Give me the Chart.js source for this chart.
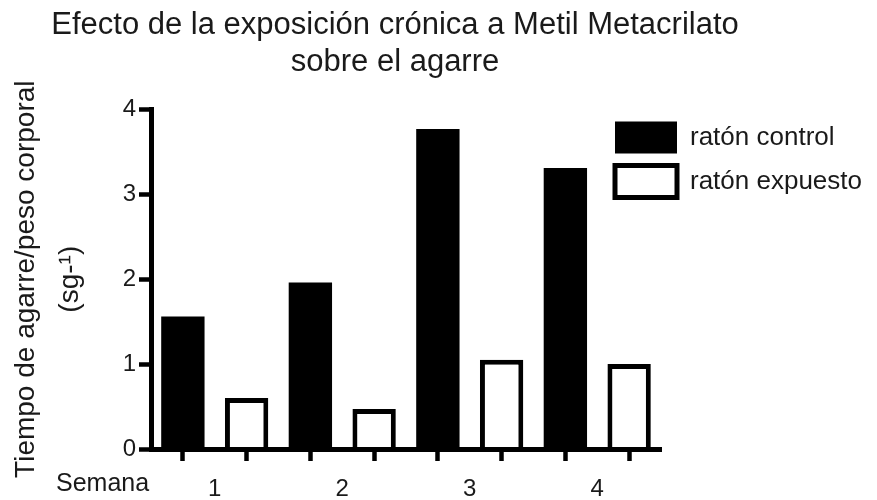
<!DOCTYPE html>
<html>
<head>
<meta charset="utf-8">
<script src="https://cdn.jsdelivr.net/npm/chart.js@4/dist/chart.umd.min.js"></script>
<style>
  html, body { margin: 0; padding: 0; background: #ffffff; }
  #wrap { width: 877px; height: 500px; position: relative; }
</style>
</head>
<body>
<div id="wrap"><canvas id="c"></canvas></div>
<script>
// ---- data ----
const weeks = ['1', '2', '3', '4'];
const seriesNames = ['ratón control', 'ratón expuesto'];
const control = [1.56, 1.96, 3.77, 3.31];
const expuesto = [0.60, 0.47, 1.05, 1.00];
const yMin = 0, yMax = 4, yStep = 1;
const titleLines = ['Efecto de la exposición crónica a Metil Metacrilato', 'sobre el agarre'];
const yTitleLines = ['Tiempo de agarre/peso corporal', '(sg-¹)'];
const xLeadLabel = 'Semana';

// one bar slot per (week, series)
const barCategories = weeks.flatMap(w => [w + ' ' + seriesNames[0], w + ' ' + seriesNames[1]]);
const controlSlots = weeks.flatMap((w, i) => [control[i], null]);
const expuestoSlots = weeks.flatMap((w, i) => [null, expuesto[i]]);

const TEXT = '#1a1a1a';
Chart.defaults.font.family = '"Liberation Sans", Arial, Helvetica, sans-serif';
Chart.defaults.color = TEXT;

const legendPlacer = {
  id: 'legendPlacer',
  afterLayout(chart) {
    const lg = chart.legend;
    if (!lg) return;
    lg.left = 603;
    lg.right = chart.width;
    lg.width = lg.right - lg.left;
    lg.top = chart.chartArea.top;
  }
};

const leadLabel = {
  id: 'leadLabel',
  afterDraw(chart) {
    const s = chart.scales.x2;
    const ctx = chart.ctx;
    ctx.save();
    ctx.font = '25px "Liberation Sans", Arial, sans-serif';
    ctx.fillStyle = TEXT;
    ctx.textAlign = 'left';
    ctx.textBaseline = 'middle';
    ctx.fillText(xLeadLabel, chart.scales.y.left + 56, s.top + 23);
    ctx.restore();
  }
};

new Chart(document.getElementById('c'), {
  type: 'bar',
  data: {
    labels: barCategories,
    datasets: [
      {
        label: seriesNames[0],
        data: controlSlots,
        backgroundColor: '#000000',
        borderColor: '#000000',
        borderWidth: 0,
        grouped: false,
        barPercentage: 0.68,
        categoryPercentage: 1.0
      },
      {
        label: seriesNames[1],
        data: expuestoSlots,
        backgroundColor: '#ffffff',
        borderColor: '#000000',
        borderWidth: 5,
        grouped: false,
        barPercentage: 0.68,
        categoryPercentage: 1.0
      }
    ]
  },
  options: {
    responsive: true,
    maintainAspectRatio: false,
    animation: false,
    events: [],
    layout: { padding: { left: 0, right: 87, top: 0, bottom: 0 } },
    plugins: {
      title: {
        display: true,
        text: titleLines,
        color: TEXT,
        font: { size: 31, weight: 'normal', lineHeight: 1.2 },
        padding: { top: 7, bottom: 28 }
      },
      legend: {
        position: 'right',
        align: 'start',
        maxWidth: 129,
        labels: {
          boxWidth: 62,
          boxHeight: 32,
          padding: 12,
          color: TEXT,
          font: { size: 26 }
        }
      },
      tooltip: { enabled: false }
    },
    scales: {
      x: {
        type: 'category',
        position: 'bottom',
        weight: 0,
        offset: true,
        grid: {
          display: true,
          offset: false,
          drawOnChartArea: false,
          drawTicks: true,
          tickLength: 12,
          tickWidth: 4.5,
          tickColor: '#000000'
        },
        border: { display: true, width: 5, color: '#000000', z: 1 },
        ticks: { display: false },
        afterFit(scale) { scale.height = 12; }
      },
      x2: {
        type: 'category',
        position: 'bottom',
        weight: 1,
        labels: weeks,
        offset: true,
        grid: { display: false, drawTicks: false, tickLength: 0 },
        border: { display: false },
        ticks: { color: TEXT, font: { size: 24 }, padding: 14, maxRotation: 0, autoSkip: false },
        afterFit(scale) { scale.height = 39; }
      },
      y: {
        type: 'linear',
        position: 'left',
        min: yMin,
        max: yMax,
        grid: {
          display: true,
          drawOnChartArea: false,
          drawTicks: true,
          tickLength: 12,
          tickWidth: 4.5,
          tickColor: '#000000'
        },
        border: { display: true, width: 5, color: '#000000', z: 1 },
        ticks: { stepSize: yStep, color: TEXT, font: { size: 24 }, padding: 3 },
        title: {
          display: true,
          text: yTitleLines,
          color: TEXT,
          font: { size: 28, lineHeight: 1.55 },
          padding: { top: 5, bottom: 0 }
        },
        afterFit(scale) { scale.width = 151; }
      }
    }
  },
  plugins: [legendPlacer, leadLabel]
});
</script>
</body>
</html>
